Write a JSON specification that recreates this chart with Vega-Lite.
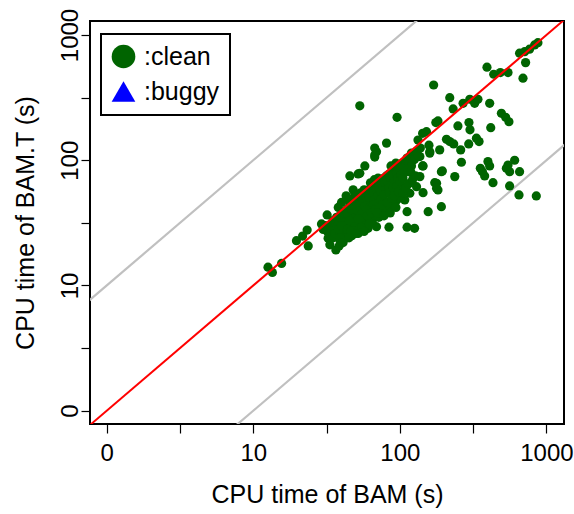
{
  "$schema": "https://vega.github.io/schema/vega-lite/v6.json",
  "width": 474,
  "height": 403,
  "autosize": {"type": "none"},
  "padding": {"left": 90, "top": 21, "right": 10, "bottom": 90},
  "background": "white",
  "config": {
    "font": "Liberation Sans",
    "view": {"stroke": "black", "strokeWidth": 2},
    "axis": {
      "grid": false, "domain": false, "tickColor": "black", "tickSize": 9, "tickWidth": 1.2,
      "labelColor": "black", "labelFontSize": 24, "labelFont": "Liberation Sans",
      "titleFontSize": 25, "titleFontWeight": "normal", "titleColor": "black", "titleFont": "Liberation Sans",
      "labelOverlap": false, "labelFlush": false
    },
    "legend": {
      "orient": "none", "legendX": 11, "legendY": 13,
      "strokeColor": "black", "strokeWidth": 2, "fillColor": "white",
      "padding": 10, "symbolSize": 560, "symbolStrokeWidth": 0,
      "labelFontSize": 25, "labelFont": "Liberation Sans", "labelColor": "black",
      "labelOffset": 8, "rowPadding": 9
    }
  },
  "encoding": {
    "x": {
      "field": "bam", "type": "quantitative",
      "scale": {"type": "log", "domain": [0.769, 1318], "nice": false},
      "axis": {
        "title": "CPU time of BAM (s)",
        "values": [1, 3.1623, 10, 31.623, 100, 316.23, 1000],
        "labelExpr": "datum.value==1?'0':datum.value==10?'10':datum.value==100?'100':datum.value==1000?'1000':''",
        "labelPadding": 8, "titlePadding": 17
      }
    },
    "y": {
      "field": "bamt", "type": "quantitative",
      "scale": {"type": "log", "domain": [0.783, 1294], "nice": false},
      "axis": {
        "title": "CPU time of BAM.T (s)",
        "values": [1, 3.1623, 10, 31.623, 100, 316.23, 1000],
        "labelExpr": "datum.value==1?'0':datum.value==10?'10':datum.value==100?'100':datum.value==1000?'1000':''",
        "labelAngle": 270, "labelAlign": "center", "labelBaseline": "alphabetic",
        "labelPadding": 4, "titlePadding": 20
      }
    }
  },
  "layer": [
    {
      "data": {"values": [{"bam": 0.5, "bamt": 5}, {"bam": 2000, "bamt": 20000}]},
      "mark": {"type": "line", "color": "#c0c0c0", "strokeWidth": 2.2, "clip": true}
    },
    {
      "data": {"values": [{"bam": 0.5, "bamt": 0.05}, {"bam": 2000, "bamt": 200}]},
      "mark": {"type": "line", "color": "#c0c0c0", "strokeWidth": 2.2, "clip": true}
    },
    {
      "data": {"values": [
        {"bam":12.6,"bamt":14.0,"type":"clean"},{"bam":13.5,"bamt":12.7,"type":"clean"},{"bam":15.6,"bamt":15.0,"type":"clean"},
        {"bam":19.7,"bamt":22.8,"type":"clean"},{"bam":21.7,"bamt":24.8,"type":"clean"},{"bam":23.3,"bamt":27.7,"type":"clean"},
        {"bam":23.7,"bamt":20.7,"type":"clean"},{"bam":29.2,"bamt":31.0,"type":"clean"},{"bam":31.9,"bamt":36.6,"type":"clean"},
        {"bam":32.4,"bamt":23.8,"type":"clean"},{"bam":33.3,"bamt":21.1,"type":"clean"},{"bam":36.6,"bamt":19.2,"type":"clean"},
        {"bam":38.5,"bamt":20.7,"type":"clean"},{"bam":38.9,"bamt":23.1,"type":"clean"},{"bam":36.0,"bamt":26.9,"type":"clean"},
        {"bam":45.6,"bamt":75.0,"type":"clean"},{"bam":51.9,"bamt":77.8,"type":"clean"},{"bam":57.7,"bamt":90.1,"type":"clean"},
        {"bam":69.3,"bamt":117,"type":"clean"},{"bam":67.4,"bamt":106,"type":"clean"},{"bam":60.7,"bamt":28.6,"type":"clean"},
        {"bam":69.3,"bamt":29.5,"type":"clean"},{"bam":84.3,"bamt":29.2,"type":"clean"},{"bam":112,"bamt":29.2,"type":"clean"},
        {"bam":126,"bamt":28.6,"type":"clean"},{"bam":112,"bamt":38.8,"type":"clean"},{"bam":156,"bamt":38.8,"type":"clean"},
        {"bam":192,"bamt":42.6,"type":"clean"},{"bam":192,"bamt":81.1,"type":"clean"},{"bam":178,"bamt":65.5,"type":"clean"},
        {"bam":182,"bamt":57.9,"type":"clean"},{"bam":144,"bamt":55.1,"type":"clean"},{"bam":144,"bamt":90.0,"type":"clean"},
        {"bam":160,"bamt":117,"type":"clean"},{"bam":53.3,"bamt":272,"type":"clean"},{"bam":95.7,"bamt":220,"type":"clean"},
        {"bam":170,"bamt":399,"type":"clean"},{"bam":219,"bamt":316,"type":"clean"},{"bam":393,"bamt":553,"type":"clean"},
        {"bam":437,"bamt":486,"type":"clean"},{"bam":485,"bamt":501,"type":"clean"},{"bam":547,"bamt":501,"type":"clean"},
        {"bam":692,"bamt":452,"type":"clean"},{"bam":721,"bamt":602,"type":"clean"},{"bam":656,"bamt":716,"type":"clean"},
        {"bam":710,"bamt":736,"type":"clean"},{"bam":767,"bamt":771,"type":"clean"},{"bam":831,"bamt":834,"type":"clean"},
        {"bam":875,"bamt":869,"type":"clean"},{"bam":410,"bamt":285,"type":"clean"},{"bam":324,"bamt":285,"type":"clean"},
        {"bam":341,"bamt":307,"type":"clean"},{"bam":300,"bamt":307,"type":"clean"},{"bam":270,"bamt":285,"type":"clean"},
        {"bam":231,"bamt":257,"type":"clean"},{"bam":493,"bamt":237,"type":"clean"},{"bam":527,"bamt":220,"type":"clean"},
        {"bam":555,"bamt":203,"type":"clean"},{"bam":417,"bamt":182,"type":"clean"},{"bam":296,"bamt":200,"type":"clean"},
        {"bam":301,"bamt":175,"type":"clean"},{"bam":249,"bamt":188,"type":"clean"},{"bam":333,"bamt":150,"type":"clean"},
        {"bam":347,"bamt":141,"type":"clean"},{"bam":295,"bamt":135,"type":"clean"},{"bam":260,"bamt":121,"type":"clean"},
        {"bam":219,"bamt":141,"type":"clean"},{"bam":208,"bamt":147,"type":"clean"},{"bam":233,"bamt":135,"type":"clean"},
        {"bam":187,"bamt":121,"type":"clean"},{"bam":158,"bamt":132,"type":"clean"},{"bam":160,"bamt":114,"type":"clean"},
        {"bam":176,"bamt":200,"type":"clean"},{"bam":182,"bamt":206,"type":"clean"},{"bam":152,"bamt":169,"type":"clean"},
        {"bam":143,"bamt":164,"type":"clean"},{"bam":133,"bamt":145,"type":"clean"},{"bam":81.1,"bamt":137,"type":"clean"},
        {"bam":67.4,"bamt":125,"type":"clean"},{"bam":67.4,"bamt":110,"type":"clean"},{"bam":120,"bamt":114,"type":"clean"},
        {"bam":137,"bamt":107,"type":"clean"},{"bam":123,"bamt":100,"type":"clean"},{"bam":143,"bamt":90.0,"type":"clean"},
        {"bam":263,"bamt":96.4,"type":"clean"},{"bam":399,"bamt":97.5,"type":"clean"},{"bam":410,"bamt":90.0,"type":"clean"},
        {"bam":547,"bamt":91.6,"type":"clean"},{"bam":533,"bamt":86.3,"type":"clean"},{"bam":607,"bamt":100,"type":"clean"},
        {"bam":656,"bamt":81.1,"type":"clean"},{"bam":561,"bamt":81.1,"type":"clean"},{"bam":354,"bamt":86.3,"type":"clean"},
        {"bam":366,"bamt":81.1,"type":"clean"},{"bam":379,"bamt":75.0,"type":"clean"},{"bam":432,"bamt":66.2,"type":"clean"},
        {"bam":561,"bamt":62.4,"type":"clean"},{"bam":650,"bamt":52.8,"type":"clean"},{"bam":853,"bamt":51.9,"type":"clean"},
        {"bam":195,"bamt":82.2,"type":"clean"},{"bam":237,"bamt":74.0,"type":"clean"},{"bam":173,"bamt":66.2,"type":"clean"},
        {"bam":178,"bamt":59.7,"type":"clean"},{"bam":137,"bamt":74.0,"type":"clean"},{"bam":130,"bamt":61.5,"type":"clean"},
        {"bam":53.3,"bamt":78.7,"type":"clean"},{"bam":108,"bamt":88.9,"type":"clean"},{"bam":105,"bamt":78.7,"type":"clean"},
        {"bam":99.8,"bamt":67.4,"type":"clean"},{"bam":108,"bamt":61.5,"type":"clean"},{"bam":117,"bamt":54.5,"type":"clean"},
        {"bam":108,"bamt":48.2,"type":"clean"},
        {"bam":30,"bamt":28,"type":"clean"},{"bam":32,"bamt":27,"type":"clean"},{"bam":34,"bamt":30,"type":"clean"},
        {"bam":35,"bamt":33,"type":"clean"},{"bam":36,"bamt":29,"type":"clean"},{"bam":37,"bamt":35,"type":"clean"},
        {"bam":38,"bamt":31,"type":"clean"},{"bam":39,"bamt":36,"type":"clean"},{"bam":40,"bamt":34,"type":"clean"},
        {"bam":41,"bamt":38,"type":"clean"},{"bam":42,"bamt":32,"type":"clean"},{"bam":43,"bamt":40,"type":"clean"},
        {"bam":44,"bamt":37,"type":"clean"},{"bam":45,"bamt":42,"type":"clean"},{"bam":33,"bamt":25,"type":"clean"},
        {"bam":38,"bamt":26,"type":"clean"},{"bam":40,"bamt":28,"type":"clean"},{"bam":42,"bamt":29,"type":"clean"},
        {"bam":44,"bamt":31,"type":"clean"},{"bam":46,"bamt":30,"type":"clean"},{"bam":35,"bamt":24,"type":"clean"},
        {"bam":31,"bamt":30,"type":"clean"},{"bam":40,"bamt":46,"type":"clean"},{"bam":43,"bamt":52,"type":"clean"},
        {"bam":48,"bamt":58,"type":"clean"},{"bam":38,"bamt":42,"type":"clean"},
        {"bam":46,"bamt":44,"type":"clean"},{"bam":47,"bamt":40,"type":"clean"},{"bam":48,"bamt":45,"type":"clean"},
        {"bam":49,"bamt":38,"type":"clean"},{"bam":50,"bamt":47,"type":"clean"},{"bam":51,"bamt":42,"type":"clean"},
        {"bam":52,"bamt":49,"type":"clean"},{"bam":53,"bamt":44,"type":"clean"},{"bam":54,"bamt":36,"type":"clean"},
        {"bam":55,"bamt":50,"type":"clean"},{"bam":56,"bamt":46,"type":"clean"},{"bam":57,"bamt":41,"type":"clean"},
        {"bam":58,"bamt":52,"type":"clean"},{"bam":59,"bamt":47,"type":"clean"},{"bam":60,"bamt":55,"type":"clean"},
        {"bam":47,"bamt":34,"type":"clean"},{"bam":50,"bamt":35,"type":"clean"},{"bam":52,"bamt":39,"type":"clean"},
        {"bam":55,"bamt":38,"type":"clean"},{"bam":58,"bamt":43,"type":"clean"},{"bam":48,"bamt":50,"type":"clean"},
        {"bam":51,"bamt":53,"type":"clean"},{"bam":54,"bamt":55,"type":"clean"},{"bam":57,"bamt":58,"type":"clean"},
        {"bam":45,"bamt":48,"type":"clean"},
        {"bam":61,"bamt":57,"type":"clean"},{"bam":62,"bamt":50,"type":"clean"},{"bam":63,"bamt":60,"type":"clean"},
        {"bam":64,"bamt":46,"type":"clean"},{"bam":65,"bamt":62,"type":"clean"},{"bam":66,"bamt":54,"type":"clean"},
        {"bam":67,"bamt":48,"type":"clean"},{"bam":68,"bamt":63,"type":"clean"},{"bam":69,"bamt":58,"type":"clean"},
        {"bam":70,"bamt":66,"type":"clean"},{"bam":71,"bamt":52,"type":"clean"},{"bam":72,"bamt":61,"type":"clean"},
        {"bam":73,"bamt":68,"type":"clean"},{"bam":74,"bamt":56,"type":"clean"},{"bam":75,"bamt":70,"type":"clean"},
        {"bam":76,"bamt":63,"type":"clean"},{"bam":77,"bamt":50,"type":"clean"},{"bam":78,"bamt":72,"type":"clean"},
        {"bam":79,"bamt":66,"type":"clean"},{"bam":80,"bamt":58,"type":"clean"},{"bam":62,"bamt":42,"type":"clean"},
        {"bam":66,"bamt":44,"type":"clean"},{"bam":70,"bamt":45,"type":"clean"},{"bam":74,"bamt":48,"type":"clean"},
        {"bam":78,"bamt":53,"type":"clean"},{"bam":63,"bamt":66,"type":"clean"},{"bam":67,"bamt":70,"type":"clean"},
        {"bam":71,"bamt":72,"type":"clean"},{"bam":60,"bamt":40,"type":"clean"},{"bam":65,"bamt":38,"type":"clean"},
        {"bam":81,"bamt":75,"type":"clean"},{"bam":82,"bamt":68,"type":"clean"},{"bam":84,"bamt":60,"type":"clean"},
        {"bam":85,"bamt":78,"type":"clean"},{"bam":86,"bamt":72,"type":"clean"},{"bam":88,"bamt":64,"type":"clean"},
        {"bam":89,"bamt":82,"type":"clean"},{"bam":90,"bamt":75,"type":"clean"},{"bam":92,"bamt":68,"type":"clean"},
        {"bam":93,"bamt":86,"type":"clean"},{"bam":95,"bamt":80,"type":"clean"},{"bam":97,"bamt":72,"type":"clean"},
        {"bam":98,"bamt":90,"type":"clean"},{"bam":100,"bamt":84,"type":"clean"},{"bam":102,"bamt":76,"type":"clean"},
        {"bam":104,"bamt":95,"type":"clean"},{"bam":106,"bamt":88,"type":"clean"},{"bam":108,"bamt":80,"type":"clean"},
        {"bam":110,"bamt":100,"type":"clean"},{"bam":85,"bamt":55,"type":"clean"},{"bam":90,"bamt":60,"type":"clean"},
        {"bam":95,"bamt":62,"type":"clean"},{"bam":100,"bamt":68,"type":"clean"},{"bam":105,"bamt":72,"type":"clean"},
        {"bam":87,"bamt":90,"type":"clean"},{"bam":94,"bamt":95,"type":"clean"},
        {"bam":112,"bamt":104,"type":"clean"},{"bam":115,"bamt":96,"type":"clean"},{"bam":118,"bamt":108,"type":"clean"},
        {"bam":120,"bamt":90,"type":"clean"},{"bam":123,"bamt":112,"type":"clean"},{"bam":126,"bamt":102,"type":"clean"},
        {"bam":130,"bamt":118,"type":"clean"},{"bam":134,"bamt":108,"type":"clean"},{"bam":138,"bamt":125,"type":"clean"},
        {"bam":113,"bamt":85,"type":"clean"},{"bam":119,"bamt":80,"type":"clean"},
        {"bam":40,"bamt":25,"type":"clean"},{"bam":42,"bamt":27,"type":"clean"},{"bam":45,"bamt":26,"type":"clean"},
        {"bam":48,"bamt":28,"type":"clean"},{"bam":50,"bamt":30,"type":"clean"},{"bam":53,"bamt":31,"type":"clean"},
        {"bam":56,"bamt":33,"type":"clean"},{"bam":58,"bamt":30,"type":"clean"},{"bam":62,"bamt":34,"type":"clean"},
        {"bam":65,"bamt":33,"type":"clean"},{"bam":68,"bamt":36,"type":"clean"},{"bam":72,"bamt":35,"type":"clean"},
        {"bam":75,"bamt":38,"type":"clean"},{"bam":80,"bamt":40,"type":"clean"},{"bam":85,"bamt":42,"type":"clean"},
        {"bam":90,"bamt":45,"type":"clean"},{"bam":95,"bamt":48,"type":"clean"},{"bam":100,"bamt":50,"type":"clean"},
        {"bam":48,"bamt":32,"type":"clean"},{"bam":52,"bamt":34,"type":"clean"},{"bam":55,"bamt":29,"type":"clean"},
        {"bam":60,"bamt":36,"type":"clean"},{"bam":64,"bamt":38,"type":"clean"},{"bam":68,"bamt":40,"type":"clean"},
        {"bam":72,"bamt":42,"type":"clean"},{"bam":76,"bamt":44,"type":"clean"},{"bam":82,"bamt":46,"type":"clean"},
        {"bam":88,"bamt":50,"type":"clean"},{"bam":92,"bamt":52,"type":"clean"},{"bam":98,"bamt":56,"type":"clean"},
        {"bam":45,"bamt":33,"type":"clean"},{"bam":43,"bamt":28,"type":"clean"},{"bam":47,"bamt":25,"type":"clean"},
        {"bam":52,"bamt":26,"type":"clean"},{"bam":57,"bamt":27,"type":"clean"},{"bam":62,"bamt":31,"type":"clean"},
        {"bam":70,"bamt":38,"type":"clean"},{"bam":78,"bamt":36,"type":"clean"},{"bam":86,"bamt":38,"type":"clean"},
        {"bam":94,"bamt":42,"type":"clean"},{"bam":105,"bamt":55,"type":"clean"},{"bam":110,"bamt":60,"type":"clean"},
        {"bam":115,"bamt":65,"type":"clean"},{"bam":122,"bamt":70,"type":"clean"},{"bam":128,"bamt":75,"type":"clean"},
        {"bam":34,"bamt":27,"type":"clean"},{"bam":36,"bamt":26,"type":"clean"},{"bam":38,"bamt":28,"type":"clean"},
        {"bam":40,"bamt":30,"type":"clean"},{"bam":42,"bamt":24,"type":"clean"},{"bam":44,"bamt":28,"type":"clean"},
        {"bam":46,"bamt":27,"type":"clean"},{"bam":50,"bamt":26,"type":"clean"},{"bam":39,"bamt":24,"type":"clean"},
        {"bam":41,"bamt":22,"type":"clean"},{"bam":45,"bamt":24,"type":"clean"}
      ]},
      "mark": {"type": "point", "filled": true, "size": 85, "opacity": 1},
      "encoding": {
        "color": {
          "field": "type", "type": "nominal",
          "scale": {"domain": ["clean", "buggy"], "range": ["#006400", "#0000ff"]},
          "legend": {"title": null, "labelExpr": "':' + datum.label"}
        },
        "shape": {
          "field": "type", "type": "nominal",
          "scale": {"domain": ["clean", "buggy"], "range": ["circle", "triangle-up"]},
          "legend": {"title": null, "labelExpr": "':' + datum.label"}
        }
      }
    },
    {
      "data": {"values": [{"bam": 0.5, "bamt": 0.5}, {"bam": 2000, "bamt": 2000}]},
      "mark": {"type": "line", "color": "#ff0000", "strokeWidth": 2, "clip": true}
    }
  ]
}
